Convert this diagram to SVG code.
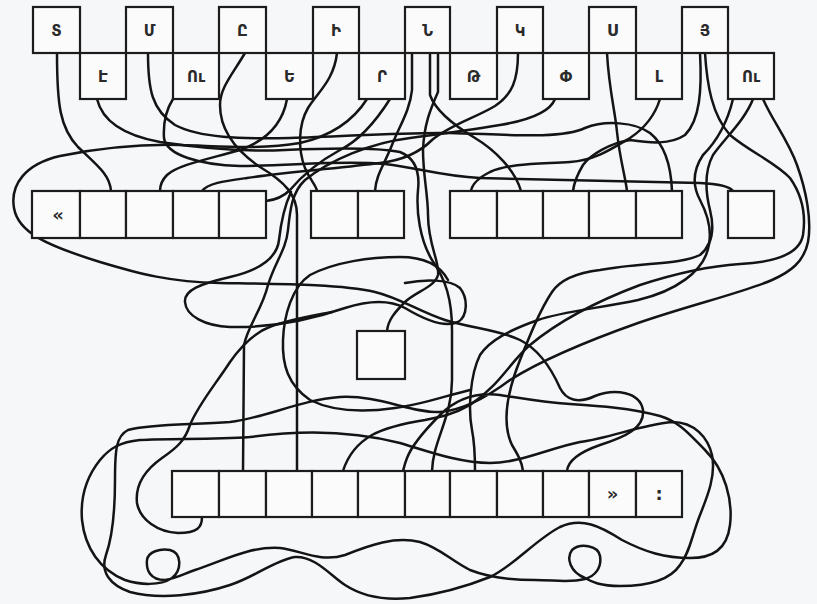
<svg xmlns="http://www.w3.org/2000/svg" width="817" height="604" viewBox="0 0 817 604">
<style>
.bx{fill:#fbfbfb;stroke:#1c1c1c;stroke-width:2.2}
.ln{fill:none;stroke:#141414;stroke-width:2.5;stroke-linecap:round;stroke-linejoin:round}
.t{font-family:"DejaVu Sans","Noto Sans",sans-serif;font-weight:bold;font-size:15px;fill:#2a2a2a;text-anchor:middle}
</style>
<rect width="817" height="604" fill="#f6f7f9"/>
<g id="connectors">
<path class="ln" d="M57,53 C57,105 60,128 78,147 C98,166 110,175 111,191"/>
<path class="ln" d="M97,99 C102,120 122,135 160,142 C200,148 245,152 285,150 C330,148 375,147 400,152 C415,158 420,172 418,190 C416,212 420,240 432,260 C446,280 452,300 452,330 L452,380 C452,418 433,440 432,471"/>
<path class="ln" d="M148,53 C148,90 152,110 175,125 C200,138 240,139 290,138 C340,137 400,132 450,133 C500,134 560,140 585,128 C605,120 635,122 650,133 C665,145 671,165 672,191"/>
<path class="ln" d="M173,99 C166,110 163,122 164,138 C166,155 200,165 240,166 C290,166 340,160 385,164 C420,168 440,176 480,178 C560,180 640,182 700,183 C720,184 730,187 733,191"/>
<path class="ln" d="M245,53 C232,75 220,88 220,105 C220,130 235,150 260,167 C285,182 297,195 297,215 L297,471"/>
<path class="ln" d="M287,99 C283,122 268,140 240,150 C205,160 178,165 167,175 C161,181 160,186 160,191"/>
<path class="ln" d="M337,53 C334,80 318,92 308,108 C298,125 298,150 305,168 C310,180 316,185 317,191"/>
<path class="ln" d="M367,99 C355,118 335,135 300,143 C260,150 220,146 180,145 C140,144 100,148 60,156 C25,164 10,185 14,208 C18,232 45,245 100,262 C140,274 170,282 220,283 C280,284 340,284 375,292 C400,298 420,312 445,320 C470,328 500,330 520,340 C540,350 552,370 560,388 C566,400 578,404 595,396 C615,388 640,392 643,410 C645,428 625,437 600,445 C580,452 568,460 567,471"/>
<path class="ln" d="M390,99 C378,118 360,140 340,150 C318,162 300,178 290,190 C283,197 275,200 266,201"/>
<path class="ln" d="M412,53 L412,90 C410,110 400,125 392,145 C384,165 376,175 375,191"/>
<path class="ln" d="M430,53 L430,95 C436,112 455,126 475,138 C495,150 515,170 521,191"/>
<path class="ln" d="M438,53 L438,92 C430,110 424,125 423,150 C423,175 428,195 428,215 C428,245 440,262 438,275 C435,287 415,292 405,302 C395,312 388,320 387,331"/>
<path class="ln" d="M518,53 C518,80 512,95 495,106 C475,118 450,125 432,140 C420,152 405,160 380,163 C340,168 290,172 247,178 C225,181 208,183 202,191"/>
<path class="ln" d="M555,99 C550,112 530,120 500,125 C470,130 440,134 410,138 C370,143 330,160 305,180 C292,192 290,210 288,230 C286,250 275,262 268,285 C262,310 248,325 244,345 L243,471"/>
<path class="ln" d="M660,99 C655,115 645,128 630,138 C610,150 595,160 570,162 C540,164 510,163 490,172 C478,178 472,185 471,191"/>
<path class="ln" d="M700,53 C702,90 700,120 685,135 C670,145 650,143 630,140 C610,143 590,155 583,165 C577,175 574,183 573,191"/>
<path class="ln" d="M607,53 C609,90 615,110 617,132 C620,160 625,175 627,191"/>
<path class="ln" d="M705,53 C707,85 712,115 730,135 C750,152 775,162 790,178 C802,195 806,215 803,235 C800,252 780,262 740,264 C710,266 680,272 640,285 C600,300 560,320 530,345 C510,362 500,385 470,405 C455,414 440,417 425,420 C400,424 385,428 372,435 C358,443 348,455 343,471"/>
<path class="ln" d="M733,99 C728,120 718,140 703,155 C693,170 692,185 700,200 C708,215 714,235 706,255 C700,270 680,290 638,300 C600,308 560,312 538,320 C510,330 490,340 480,355 C470,375 468,410 472,430 C474,440 475,450 475,471"/>
<path class="ln" d="M753,99 C745,120 725,138 713,155 C705,170 705,190 710,210 C715,230 712,245 700,255 C680,265 640,262 600,270 C575,273 560,280 552,292 C540,310 530,335 520,360 C510,385 500,420 512,445 C518,455 522,462 523,471"/>
<path class="ln" d="M763,99 C772,120 788,140 797,165 C806,190 812,220 808,242 C804,262 790,272 772,280 C745,292 690,305 638,323 C590,340 545,358 510,380 C490,395 465,410 440,412 C410,413 380,395 340,397 C300,400 265,418 230,422 C190,425 150,424 128,430 C116,436 115,450 115,480 C115,510 113,535 106,555 C100,572 110,585 130,592 C160,600 200,595 230,585 C255,577 275,560 295,557 C315,556 330,575 345,585 C365,598 390,600 410,598 C440,594 470,585 490,577 C515,565 535,540 560,527 C582,517 600,526 622,540 C645,552 665,558 690,558 C712,558 727,550 730,525 C733,500 725,470 705,450 C690,435 680,422 660,416 C630,408 600,406 570,404 C540,402 520,398 500,395 C475,392 455,400 440,415 C425,430 412,445 407,458 C405,463 404,467 403,471"/>
<path class="ln" d="M448,280 C440,265 425,257 400,257 C370,257 335,262 310,275 C292,287 284,315 283,340 C282,365 288,385 310,400 C330,410 360,413 395,408 C420,405 445,396 470,390"/>
<path class="ln" d="M405,283 C425,279 450,279 460,288 C468,298 468,316 458,322 C445,328 425,320 405,308 C390,300 370,300 345,308 C310,320 270,328 230,327 C205,326 186,316 185,302 C184,290 200,284 230,277 C260,270 277,258 279,240 C281,222 285,205 291,192"/>
<path class="ln" d="M202,517 C202,527 198,533 178,533 C158,532 140,520 137,503 C135,485 145,470 162,458 C178,447 185,440 190,425 C198,405 215,385 230,362 C242,345 255,332 272,326 C292,319 312,316 332,312"/>
<path class="ln" d="M250,437 C300,430 350,430 400,443 C430,452 460,463 490,463 C520,463 550,448 580,442 C610,438 640,425 672,422 C695,422 708,438 712,455 C716,475 708,495 700,515 C692,535 690,552 680,565 C670,580 650,586 620,586 C600,586 592,582 585,578 C570,572 566,558 572,550 C580,543 598,545 600,556 C602,568 595,576 585,579 C570,583 555,580 535,580 C510,580 490,578 470,570 C450,560 440,548 420,542 C395,536 370,545 345,555 C320,563 300,550 280,548 C250,546 225,560 195,570 C183,574 178,578 165,580 C150,580 146,570 147,560 C148,552 160,548 170,550 C182,553 182,570 172,578 C160,586 140,585 125,580 C100,570 85,548 82,520 C80,495 88,475 100,460 C110,448 120,442 140,440 C170,438 210,440 250,437"/>
</g>
<g id="top-row">
<g id="n-tiun"><rect class="bx" x="33" y="7" width="47" height="46"/><text class="t" x="56.5" y="36">Տ</text></g>
<g id="n-e"><rect class="bx" x="80" y="53" width="46" height="46"/><text class="t" x="103" y="82">Է</text></g>
<g id="n-men"><rect class="bx" x="126" y="7" width="47" height="46"/><text class="t" x="149.5" y="36">Մ</text></g>
<g id="n-u1"><rect class="bx" x="173" y="53" width="46" height="46"/><text class="t" x="196" y="82">Ու</text></g>
<g id="n-et"><rect class="bx" x="219" y="7" width="47" height="46"/><text class="t" x="242.5" y="36">Ը</text></g>
<g id="n-ech"><rect class="bx" x="266" y="53" width="47" height="46"/><text class="t" x="289.5" y="82">Ե</text></g>
<g id="n-ini"><rect class="bx" x="313" y="7" width="46" height="46"/><text class="t" x="336" y="36">Ի</text></g>
<g id="n-re"><rect class="bx" x="359" y="53" width="46" height="46"/><text class="t" x="382" y="82">Ր</text></g>
<g id="n-nu"><rect class="bx" x="405" y="7" width="45" height="46"/><text class="t" x="427.5" y="36">Ն</text></g>
<g id="n-to"><rect class="bx" x="450" y="53" width="47" height="46"/><text class="t" x="473.5" y="82">Թ</text></g>
<g id="n-ken"><rect class="bx" x="497" y="7" width="46" height="46"/><text class="t" x="520" y="36">Կ</text></g>
<g id="n-pyur"><rect class="bx" x="543" y="53" width="46" height="46"/><text class="t" x="566" y="82">Փ</text></g>
<g id="n-se"><rect class="bx" x="589" y="7" width="47" height="46"/><text class="t" x="612.5" y="36">Ս</text></g>
<g id="n-liun"><rect class="bx" x="636" y="53" width="46" height="46"/><text class="t" x="659" y="82">Լ</text></g>
<g id="n-hi"><rect class="bx" x="682" y="7" width="46" height="46"/><text class="t" x="705" y="36">Յ</text></g>
<g id="n-u2"><rect class="bx" x="728" y="53" width="46" height="46"/><text class="t" x="751" y="82">Ու</text></g>
</g>
<g id="middle-row">
<g id="m1"><rect class="bx" x="32" y="191" width="48" height="47"/><text class="t" x="58" y="221" style="font-size:18px">«</text></g>
<g id="m2"><rect class="bx" x="80" y="191" width="46" height="47"/></g>
<g id="m3"><rect class="bx" x="126" y="191" width="47" height="47"/></g>
<g id="m4"><rect class="bx" x="173" y="191" width="46" height="47"/></g>
<g id="m5"><rect class="bx" x="219" y="191" width="47" height="47"/></g>
<g id="m6"><rect class="bx" x="311" y="191" width="47" height="47"/></g>
<g id="m7"><rect class="bx" x="358" y="191" width="46" height="47"/></g>
<g id="m8"><rect class="bx" x="450" y="191" width="47" height="47"/></g>
<g id="m9"><rect class="bx" x="497" y="191" width="46" height="47"/></g>
<g id="m10"><rect class="bx" x="543" y="191" width="46" height="47"/></g>
<g id="m11"><rect class="bx" x="589" y="191" width="47" height="47"/></g>
<g id="m12"><rect class="bx" x="636" y="191" width="46" height="47"/></g>
<g id="m13"><rect class="bx" x="728" y="191" width="46" height="47"/></g>
</g>
<g id="small-box"><rect class="bx" x="357" y="331" width="48" height="48"/></g>
<g id="bottom-row">
<g id="b1"><rect class="bx" x="172" y="471" width="47" height="46"/></g>
<g id="b2"><rect class="bx" x="219" y="471" width="47" height="46"/></g>
<g id="b3"><rect class="bx" x="266" y="471" width="46" height="46"/></g>
<g id="b4"><rect class="bx" x="312" y="471" width="46" height="46"/></g>
<g id="b5"><rect class="bx" x="358" y="471" width="47" height="46"/></g>
<g id="b6"><rect class="bx" x="405" y="471" width="45" height="46"/></g>
<g id="b7"><rect class="bx" x="450" y="471" width="47" height="46"/></g>
<g id="b8"><rect class="bx" x="497" y="471" width="46" height="46"/></g>
<g id="b9"><rect class="bx" x="543" y="471" width="46" height="46"/></g>
<g id="b10"><rect class="bx" x="589" y="471" width="47" height="46"/><text class="t" x="612.5" y="500" style="font-size:18px">»</text></g>
<g id="b11"><rect class="bx" x="636" y="471" width="46" height="46"/><text class="t" x="659" y="500" style="font-size:18px">:</text></g>
</g>
</svg>
